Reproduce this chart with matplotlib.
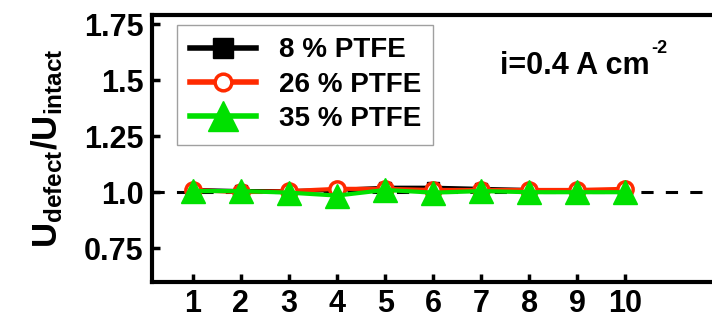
import matplotlib
matplotlib.use("Agg")
import matplotlib.pyplot as plt

plt.rcParams['font.family'] = ['Liberation Sans', 'DejaVu Sans']
plt.rcParams['font.weight'] = 'bold'
plt.rcParams['mathtext.fontset'] = 'custom'
plt.rcParams['mathtext.rm'] = 'Liberation Sans:bold'
plt.rcParams['mathtext.bf'] = 'Liberation Sans:bold'
plt.rcParams['mathtext.default'] = 'bf'

# Sample index along the electrode
positions = [1, 2, 3, 4, 5, 6, 7, 8, 9, 10]

# Voltage ratio U_defect / U_intact for each PTFE loading
ptfe_8 = [1.010, 1.005, 1.005, 1.010, 1.020, 1.020, 1.015, 1.010, 1.005, 1.010]
ptfe_26 = [1.010, 1.000, 1.005, 1.015, 1.015, 1.010, 1.010, 1.010, 1.010, 1.015]
ptfe_35 = [1.005, 1.005, 0.998, 0.985, 1.010, 0.998, 1.005, 1.000, 1.000, 1.000]

labels = ['8 % PTFE', '26 % PTFE', '35 % PTFE']
yticks = [0.75, 1.0, 1.25, 1.5, 1.75]
yticklabels = ['0.75', '1.0', '1.25', '1.5', '1.75']

fig = plt.figure(figsize=(7.12, 3.2), dpi=100)
ax = fig.add_axes([0.2135, 0.119, 0.7865, 0.834])

ax.axhline(1.0, color='black', lw=2.2, ls=(0, (4, 4)), zorder=1)

ax.plot(positions, ptfe_8, color='black', lw=3, marker='s', ms=9,
        label=labels[0], zorder=2)
ax.plot(positions, ptfe_26, color='#ff2a00', lw=3, marker='o', ms=11,
        mfc='white', mec='#ff2a00', mew=2.5, label=labels[1], zorder=3)
ax.plot(positions, ptfe_35, color='#00e000', lw=3, marker='^', ms=17,
        mfc='#00e000', mec='#00e000', label=labels[2], zorder=4)

ax.set_xlim(0.15, 11.8)
ax.set_ylim(0.6, 1.79)
ax.set_xticks(positions)
ax.set_yticks(yticks)
ax.set_yticklabels(yticklabels)

ax.spines['right'].set_visible(False)
for s in ['left', 'bottom', 'top']:
    ax.spines[s].set_linewidth(3)
ax.tick_params(axis='both', direction='in', length=6, width=2.5,
               labelsize=22, pad=6)
ax.tick_params(axis='x', pad=5)
ax.tick_params(top=False, right=False)

ax.set_ylabel(r'$\mathregular{U_{defect}/U_{intact}}$', fontsize=25,
              fontweight='bold', labelpad=14)

leg = ax.legend(loc='upper left', bbox_to_anchor=(0.045, 0.963),
                fontsize=20, frameon=True, fancybox=False,
                handlelength=2.4, handletextpad=0.8, borderpad=0.45,
                labelspacing=0.3, borderaxespad=0.0)
leg.get_frame().set_edgecolor('#888888')
leg.get_frame().set_linewidth(1)
for h, ms in zip(leg.legend_handles, [14, 12, 22]):
    h.set_markersize(ms)
    h.set_linewidth(4)

cur = ax.text(0.621, 0.81, 'i=0.4 A cm', transform=ax.transAxes,
              fontsize=22, fontweight='bold', ha='left', va='center')
ax.annotate('-2', xy=(1.0, 0.78), xycoords=cur, xytext=(1, 0),
            textcoords='offset points', fontsize=13, fontweight='bold',
            ha='left', va='bottom')

fig.savefig('out.png', dpi=100)
